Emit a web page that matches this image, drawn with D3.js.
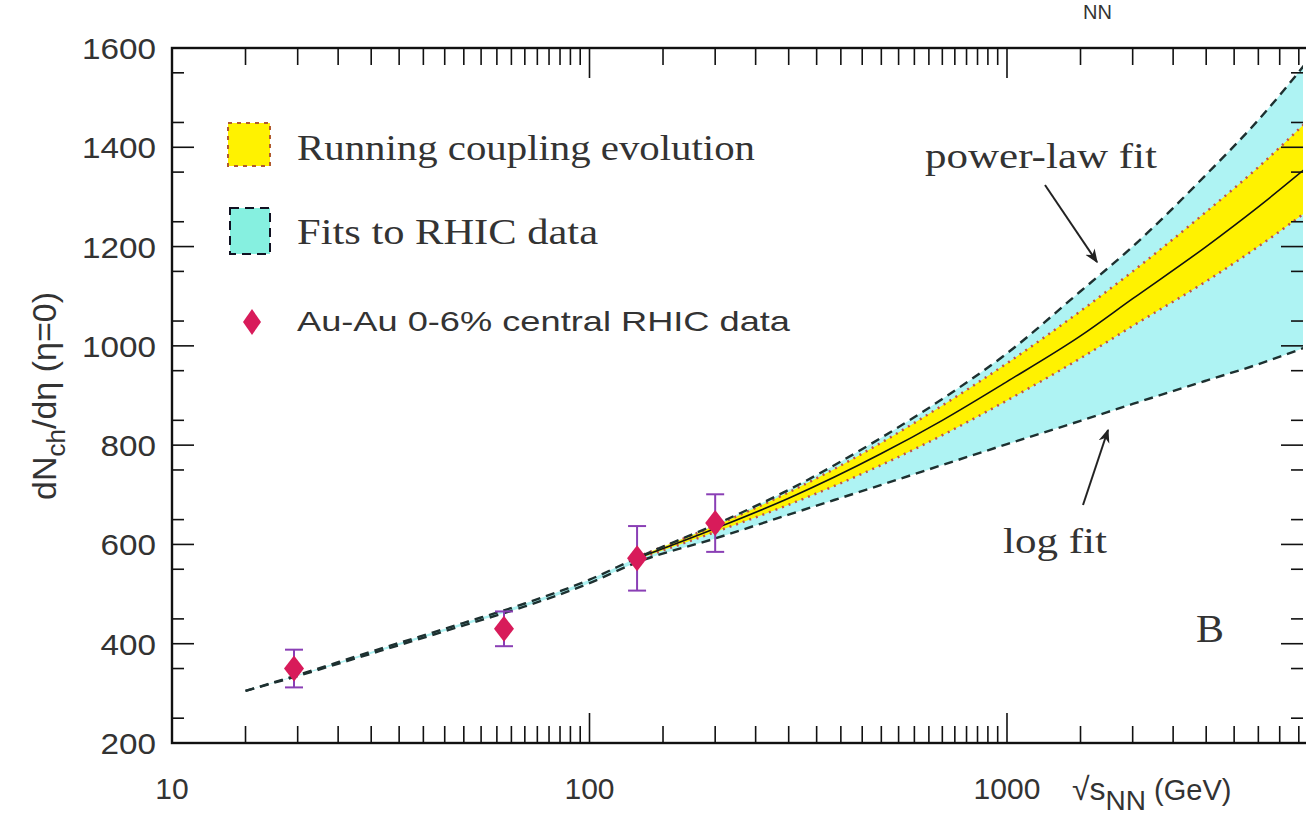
<!DOCTYPE html>
<html>
<head>
<meta charset="utf-8">
<script src="https://cdn.jsdelivr.net/npm/d3@7"></script>
<style>
  body { margin: 0; background: #fff; }
  svg { display: block; }
</style>
</head>
<body>
<div id="root"></div>
<script>
'use strict';

// energies (GeV) where the bands are sampled
const energies   = [15, 20, 30, 50, 70, 100, 130, 200, 300, 500, 700, 1000, 1500, 2000, 3000, 4000, 5500];
const logFit     = [305, 335, 380, 437, 475, 522, 564, 612, 660, 720, 760, 802, 849, 883, 930, 963, 1005];
const powerFit   = [305, 337, 384, 442, 481, 529, 573, 640, 710, 815, 893, 985, 1110, 1200, 1345, 1455, 1595];

const runEnergies = [130, 200, 300, 500, 700, 1000, 1500, 2000, 3000, 4000, 5500];
const runTop      = [575, 638, 705, 805, 880, 965, 1070, 1150, 1270, 1360, 1470];
const runMid      = [572, 632, 693, 783, 850, 928, 1020, 1095, 1200, 1280, 1375];
const runBottom   = [570, 625, 680, 760, 820, 890, 975, 1040, 1130, 1200, 1285];

const dataE   = [19.6, 62.4, 130, 200];
const dataN   = [350, 430, 572, 643];
const dataErr = [38, 35, 65, 58];

const yTicks = [200, 400, 600, 800, 1000, 1200, 1400, 1600];
const xTickLabels = [10, 100, 1000];

const W = 1306, H = 824,
      xL = 172, xR = 1303, yT = 48, yB = 743;

const svg = d3.select('#root').append('svg').attr('width', W).attr('height', H);

const x = d3.scaleLog().domain([10, Math.pow(10, 3.709)]).range([xL, xR]);
const y = d3.scaleLinear().domain([200, 1600]).range([yB, yT]);

svg.append('clipPath').attr('id', 'clip')
   .append('rect').attr('x', xL).attr('y', yT).attr('width', xR - xL).attr('height', yB - yT);

const plot = svg.append('g').attr('clip-path', 'url(#clip)');

const fitBand = energies.map((e, i) => ({ e, lo: logFit[i], hi: powerFit[i] }));
const runBand = runEnergies.map((e, i) => ({ e, lo: runBottom[i], hi: runTop[i], mid: runMid[i] }));

const area = d3.area().curve(d3.curveMonotoneX)
  .x(d => x(d.e)).y0(d => y(d.lo)).y1(d => y(d.hi));
const line = (key) => d3.line().curve(d3.curveMonotoneX).x(d => x(d.e)).y(d => y(d[key]));

plot.append('path').datum(fitBand).attr('d', area).attr('fill', '#aef3f3');
plot.append('path').datum(runBand).attr('d', area).attr('fill', '#fff200');

plot.append('path').datum(runBand).attr('d', line('hi'))
    .attr('fill', 'none').attr('stroke', '#c0504a').attr('stroke-width', 2.5).attr('stroke-dasharray', '2,5');
plot.append('path').datum(runBand).attr('d', line('lo'))
    .attr('fill', 'none').attr('stroke', '#c0504a').attr('stroke-width', 2.5).attr('stroke-dasharray', '2,5');
plot.append('path').datum(runBand).attr('d', line('mid'))
    .attr('fill', 'none').attr('stroke', '#111').attr('stroke-width', 1.6);

['lo', 'hi'].forEach(k => {
  plot.append('path').datum(fitBand).attr('d', line(k))
      .attr('fill', 'none').attr('stroke', '#1d3030').attr('stroke-width', 2.4).attr('stroke-dasharray', '9,6');
});

// data points
const pts = dataE.map((e, i) => ({ e, n: dataN[i], err: dataErr[i] }));
const eb = plot.append('g').attr('stroke', '#8a3fb5').attr('stroke-width', 2);
pts.forEach(d => {
  const px = x(d.e);
  eb.append('line').attr('x1', px).attr('x2', px).attr('y1', y(d.n - d.err)).attr('y2', y(d.n + d.err));
  eb.append('line').attr('x1', px - 9).attr('x2', px + 9).attr('y1', y(d.n - d.err)).attr('y2', y(d.n - d.err));
  eb.append('line').attr('x1', px - 9).attr('x2', px + 9).attr('y1', y(d.n + d.err)).attr('y2', y(d.n + d.err));
});
plot.selectAll('.pt').data(pts).enter().append('path')
    .attr('d', 'M0,-13L10,0L0,13L-10,0Z')
    .attr('transform', d => `translate(${x(d.e)},${y(d.n)})`)
    .attr('fill', '#d81b5a');

// axes: ticks point inward
const xMinor = [];
for (let v = 15; v < 100; v += 5) xMinor.push(v);
for (let v = 150; v < 1000; v += 50) xMinor.push(v);
for (let v = 1500; v < 5200; v += 500) xMinor.push(v);
const yMinor = d3.range(250, 1600, 100);

const ax = svg.append('g').attr('stroke', '#111').attr('stroke-width', 1.6);
ax.append('rect').attr('x', xL).attr('y', yT).attr('width', xR - xL + 8).attr('height', yB - yT)
  .attr('fill', 'none').attr('stroke-width', 2.4);

xTickLabels.forEach(v => ax.append('line').attr('x1', x(v)).attr('x2', x(v)).attr('y1', yB).attr('y2', yB - 30));
xMinor.forEach(v => ax.append('line').attr('x1', x(v)).attr('x2', x(v)).attr('y1', yB).attr('y2', yB - 17));
xTickLabels.forEach(v => ax.append('line').attr('x1', x(v)).attr('x2', x(v)).attr('y1', yT).attr('y2', yT + 30));
xMinor.forEach(v => ax.append('line').attr('x1', x(v)).attr('x2', x(v)).attr('y1', yT).attr('y2', yT + 17));

yTicks.forEach(v => {
  ax.append('line').attr('x1', xL).attr('x2', xL + 22).attr('y1', y(v)).attr('y2', y(v));
  ax.append('line').attr('x1', xR).attr('x2', xR - 22).attr('y1', y(v)).attr('y2', y(v));
});
yMinor.forEach(v => {
  ax.append('line').attr('x1', xL).attr('x2', xL + 12).attr('y1', y(v)).attr('y2', y(v));
  ax.append('line').attr('x1', xR).attr('x2', xR - 12).attr('y1', y(v)).attr('y2', y(v));
});

const sans = 'Liberation Sans, Arial, sans-serif',
      serif = 'Liberation Serif, Times New Roman, serif';

svg.selectAll('.yl').data(yTicks).enter().append('text')
   .attr('x', xL - 16).attr('y', d => y(d) + 11).attr('text-anchor', 'end')
   .attr('font-family', sans).attr('font-size', 30).attr('fill', '#333')
   .attr('textLength', d => String(d).length * 18.5).attr('lengthAdjust', 'spacingAndGlyphs').text(d => d);
svg.selectAll('.xl').data(xTickLabels).enter().append('text')
   .attr('x', d => x(d)).attr('y', yB + 56).attr('text-anchor', 'middle')
   .attr('font-family', sans).attr('font-size', 30).attr('fill', '#333').text(d => d);

// axis titles
const xt = svg.append('text').attr('x', 1072).attr('y', 800)
   .attr('font-family', sans).attr('font-size', 32).attr('fill', '#333');
xt.append('tspan').text('√s');
xt.append('tspan').attr('dy', 10).attr('font-size', 28).text('NN');
xt.append('tspan').attr('dy', -10).attr('font-size', 29).text(' (GeV)');

svg.append('text').attr('x', 1083).attr('y', 19).attr('font-family', sans).attr('font-size', 20)
   .attr('fill', '#333').text('NN');

const yt = svg.append('text').attr('transform', 'translate(56,396) rotate(-90)').attr('text-anchor', 'middle')
   .attr('font-family', sans).attr('font-size', 34).attr('fill', '#333');
yt.append('tspan').text('dN');
yt.append('tspan').attr('dy', 9).attr('font-size', 26).text('ch');
yt.append('tspan').attr('dy', -9).text('/dη (η=0)');

// legend
svg.append('rect').attr('x', 228).attr('y', 123).attr('width', 42).attr('height', 43)
   .attr('fill', '#fff200').attr('stroke', '#b05a30').attr('stroke-width', 2).attr('stroke-dasharray', '4,5');
svg.append('rect').attr('x', 230).attr('y', 208).attr('width', 40).attr('height', 46)
   .attr('fill', '#86f0e0').attr('stroke', '#112').attr('stroke-width', 2).attr('stroke-dasharray', '9,6');
svg.append('path').attr('d', 'M0,-13L9,0L0,13L-9,0Z').attr('transform', 'translate(252,322)').attr('fill', '#d81b5a');

const label = (tx, ty, txt, fam, size, len) =>
  svg.append('text').attr('x', tx).attr('y', ty).attr('font-family', fam).attr('font-size', size)
     .attr('fill', '#333').attr('textLength', len).attr('lengthAdjust', 'spacingAndGlyphs').text(txt);

label(297, 160, 'Running coupling evolution', serif, 36, 458);
label(297, 244, 'Fits to RHIC data', serif, 36, 301);
label(297, 331, 'Au-Au 0-6% central RHIC data', sans, 28, 493);

// annotations
label(925, 168, 'power-law fit', serif, 36, 232);
label(1003, 553, 'log fit', serif, 36, 104);
label(1196, 642, 'B', serif, 40, 28);

const defs = svg.append('defs');
defs.append('marker').attr('id', 'arr').attr('viewBox', '0 0 10 10').attr('refX', 9).attr('refY', 5)
    .attr('markerWidth', 7).attr('markerHeight', 7).attr('orient', 'auto')
    .append('path').attr('d', 'M0,1L10,5L0,9L3,5Z').attr('fill', '#222');
svg.append('line').attr('x1', 1045).attr('y1', 185).attr('x2', 1097).attr('y2', 262)
   .attr('stroke', '#222').attr('stroke-width', 2).attr('marker-end', 'url(#arr)');
svg.append('line').attr('x1', 1083).attr('y1', 505).attr('x2', 1108).attr('y2', 430)
   .attr('stroke', '#222').attr('stroke-width', 2).attr('marker-end', 'url(#arr)');
</script>
</body>
</html>
